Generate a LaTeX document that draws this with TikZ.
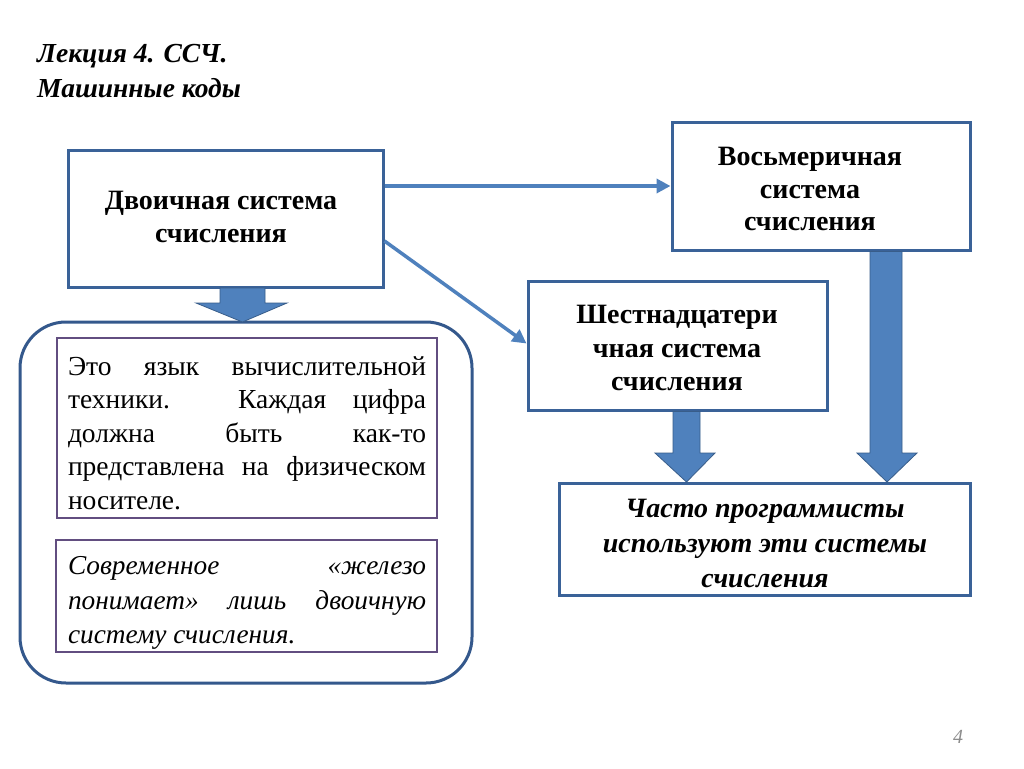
\documentclass[tikz,border=0pt]{standalone}
\usepackage{fontspec}
\setmainfont{Liberation Serif}
\usetikzlibrary{arrows.meta,calc}
\definecolor{boxblue}{RGB}{58,98,152}
\definecolor{roundblue}{RGB}{52,88,140}
\definecolor{arrowblue}{RGB}{79,129,189}
\definecolor{arrowedge}{RGB}{56,93,138}
\definecolor{innerpurple}{RGB}{98,78,128}
\newcommand{\jl}[1]{\makebox[358pt][s]{#1}}
\begin{document}
\begin{tikzpicture}[x=1pt,y=-1pt,
  bluebox/.style={draw=boxblue,line width=3pt,fill=white,inner sep=0pt},
  purplebox/.style={draw=innerpurple,line width=2.2pt,inner sep=0pt},
  boxtext/.style={font=\fontsize{28}{33}\selectfont\bfseries,align=center},
  bodytext/.style={font=\fontsize{27.5}{33.5}\selectfont,align=left},
  conn/.style={draw=arrowblue,line width=3.5pt,-{Triangle[length=14pt,width=14pt]}},
  blockarrow/.style={fill=arrowblue,draw=arrowedge,line width=0.8pt,line join=miter}]
\useasboundingbox (0,0) rectangle (1024,768);
\fill[white] (0,0) rectangle (1024,768);

% title
\node[anchor=base west,inner sep=0pt,align=left,font=\fontsize{27.5}{35}\selectfont\bfseries\itshape] (title) at (37,97) {Лекция 4. ССЧ.\\Машинные коды};

% boxes
\node[bluebox,minimum width=315pt,minimum height=137pt] (b1) at (225.5,218.5) {};
\node[boxtext] (b1t) at (221,217) {Двоичная система\\счисления};

\node[bluebox,minimum width=298pt,minimum height=128pt] (oct) at (821,186) {};
\node[boxtext,font=\fontsize{28}{32.5}\selectfont\bfseries] (octt) at (810,189) {Восьмеричная\\система\\счисления};

\node[bluebox,minimum width=299pt,minimum height=129pt] (hex) at (677.5,345.5) {};
\node[boxtext,font=\fontsize{28}{33.5}\selectfont\bfseries] (hext) at (677,348) {Шестнадцатери\\чная система\\счисления};

\node[bluebox,minimum width=411pt,minimum height=112pt] (bot) at (764.5,539) {};
\node[boxtext,font=\fontsize{28}{35}\selectfont\bfseries\itshape] (bott) at (765,543) {Часто программисты\\используют эти системы\\счисления};

% rounded container
\node[draw=roundblue,line width=3pt,rounded corners=46pt,minimum width=452pt,minimum height=361pt,inner sep=0pt] (round) at (246,502.5) {};

\node[purplebox,minimum width=380pt,minimum height=180pt] (in1) at (247,428) {};
\node[bodytext] (in1t) at (247,433) {\jl{Это язык вычислительной}\\\jl{техники. Каждая цифра}\\\jl{должна быть как-то}\\\jl{представлена на физическом}\\носителе.\hspace*{\fill}};

\node[purplebox,minimum width=381pt,minimum height=112pt] (in2) at (246.5,596) {};
\node[bodytext,font=\fontsize{27.3}{34.5}\selectfont\itshape] (in2t) at (247,603) {\jl{Современное «железо}\\\jl{понимает» лишь двоичную}\\систему счисления.\hspace*{\fill}};

% thin connectors
\draw[conn] ($(b1.east)+(0,-32.5)$) -- (oct.west);
\draw[conn] ($(b1.east)+(0,22.5)$) -- ($(hex.west)+(0,-2)$);

% block arrows
\draw[blockarrow] (220,288) -- (265,288) -- (265,303) -- (287,303) -- (242.5,322) -- (196,303) -- (220,303) -- cycle;
\draw[blockarrow] (673,411.5) -- (700,411.5) -- (700,453) -- (715,453) -- (686.5,482) -- (655,453) -- (673,453) -- cycle;
\draw[blockarrow] (870,251.5) -- (902,251.5) -- (902,453) -- (917,453) -- (887,482) -- (857,453) -- (870,453) -- cycle;

% page number
\node[font=\fontsize{20}{24}\selectfont\itshape,text=black!45] (pg) at (958,737) {4};
\end{tikzpicture}
\end{document}
